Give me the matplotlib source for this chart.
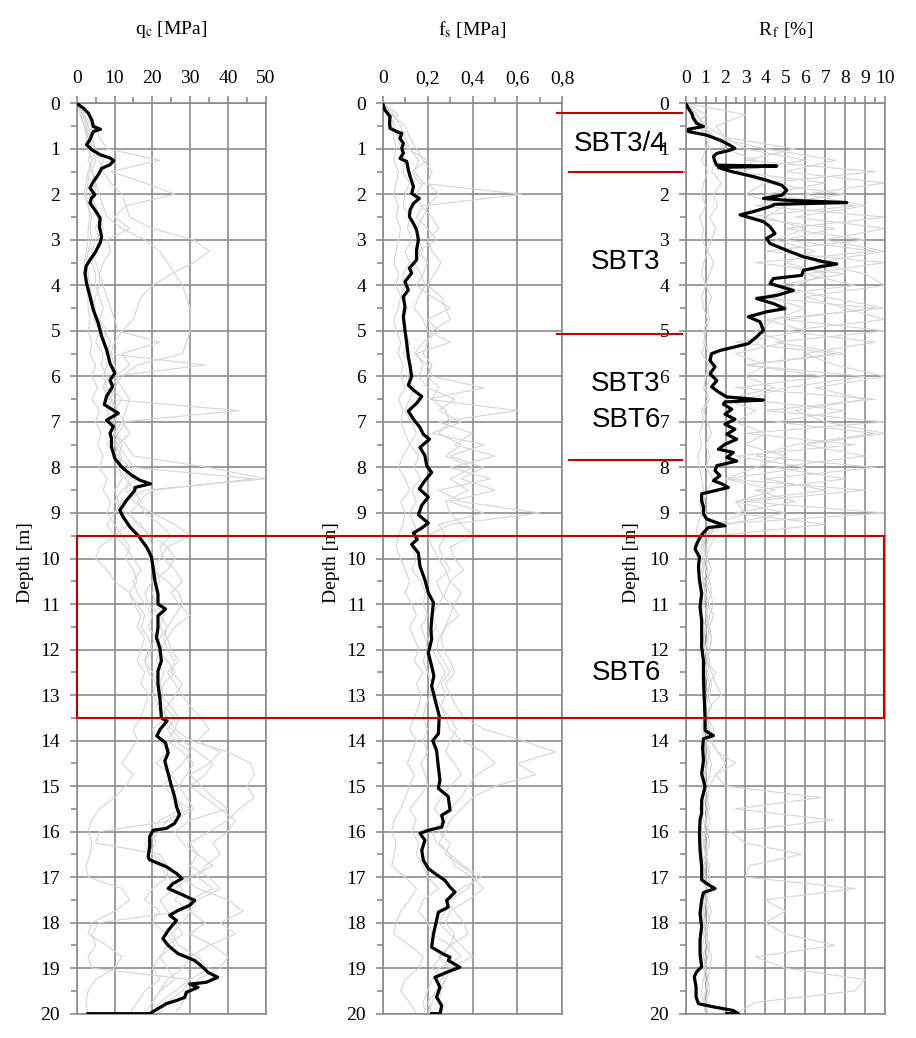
import numpy as np
import matplotlib
matplotlib.use("Agg")
import matplotlib.pyplot as plt
from matplotlib.ticker import MultipleLocator, FuncFormatter
from matplotlib.patches import Rectangle
from matplotlib.lines import Line2D

plt.rcParams["font.family"] = ["Liberation Serif", "DejaVu Serif"]
plt.rcParams["mathtext.fontset"] = "stix"

# ---------------------------------------------------------------- data
# reference (bold) CPT sounding: depth [m] / value
QC_DEPTH = [0, 0.11, 0.22, 0.37, 0.51, 0.57, 0.62, 0.8, 0.91, 1.02, 1.13, 1.2, 1.26, 1.35, 1.43,
            1.57, 1.72, 1.86, 2.01, 2.08, 2.19, 2.34, 2.52, 2.71, 2.93, 3.07, 3.29, 3.44, 3.58,
            3.73, 3.95, 4.24, 4.54, 4.83, 5.12, 5.41, 5.71, 5.93, 6.08, 6.22, 6.44, 6.62, 6.81,
            6.96, 7.1, 7.25, 7.36, 7.55, 7.8, 7.99, 8.17, 8.28, 8.36, 8.44, 8.5, 8.72, 8.94, 9.09,
            9.31, 9.5, 9.75, 9.97, 10.2, 10.49, 10.78, 11.0, 11.11, 11.26, 11.52, 11.74, 11.96,
            12.25, 12.47, 12.76, 13.06, 13.5, 13.57, 13.76, 13.9, 14.05, 14.27, 14.45, 14.72,
            14.98, 15.23, 15.45, 15.63, 15.82, 15.93, 15.97, 16.11, 16.33, 16.55, 16.62, 16.77,
            16.92, 17.03, 17.14, 17.25, 17.36, 17.51, 17.62, 17.73, 17.84, 17.95, 18.17, 18.35,
            18.5, 18.68, 18.83, 18.98, 19.09, 19.2, 19.31, 19.35, 19.42, 19.53, 19.64, 19.71,
            19.78, 19.89, 20.0, 20.0]
QC_VALUE = [0, 1.8, 3.1, 4.0, 4.4, 6.3, 4.4, 3.5, 2.6, 4.0, 6.2, 8.8, 9.8, 8.8, 6.6,
            5.7, 4.4, 3.5, 4.8, 3.9, 3.5, 4.8, 6.2, 6.0, 6.6, 6.2, 4.8, 3.5, 2.5,
            2.2, 2.6, 3.5, 4.4, 5.7, 6.6, 7.9, 8.8, 10.1, 8.8, 9.5, 7.9, 7.3, 11.0,
            7.9, 9.7, 8.8, 9.2, 9.2, 10.1, 11.9, 14.5, 16.7, 19.5, 15.4, 15.4, 13.2, 11.4, 12.3,
            14.1, 16.3, 18.5, 19.8, 20.2, 20.7, 21.5, 21.5, 23.5, 21.5, 21.5, 21.1, 22.0,
            22.4, 21.5, 21.5, 22.0, 22.4, 23.9, 22.0, 21.2, 23.5, 24.2, 23.3, 24.2,
            25.0, 25.9, 26.4, 27.2, 25.9, 23.7, 20.2, 19.3, 19.3, 18.9, 19.3, 23.7,
            26.4, 27.9, 25.5, 24.2, 27.2, 31.2, 29.9, 26.8, 24.6, 26.4, 24.2, 22.8,
            24.2, 26.8, 31.2, 33.4, 34.7, 37.3, 34.3, 29.9, 32.1, 29.0, 28.6, 26.4,
            23.7, 21.5, 19.3, 3.0]

FS_DEPTH = [0, 0.15, 0.29, 0.44, 0.55, 0.62, 0.66, 0.77, 0.88, 0.99, 1.1, 1.21, 1.28, 1.46, 1.61,
            1.83, 1.98, 2.09, 2.2, 2.34, 2.49, 2.64, 2.78, 3.0, 3.22, 3.44, 3.62, 3.73, 3.92, 4.1,
            4.25, 4.47, 4.69, 4.98, 5.27, 5.56, 5.78, 6.0, 6.19, 6.3, 6.44, 6.59, 6.76, 6.94, 7.12,
            7.27, 7.38, 7.56, 7.74, 7.96, 8.11, 8.29, 8.47, 8.65, 8.83, 9.04, 9.22, 9.33, 9.44,
            9.58, 9.69, 9.88, 10.17, 10.47, 10.75, 10.97, 11.34, 11.56, 11.78, 12.07, 12.36,
            12.58, 12.8, 13.1, 13.46, 13.85, 14.0, 14.22, 14.58, 14.87, 15.05, 15.23, 15.53,
            15.64, 15.79, 15.9, 15.97, 16.04, 16.19, 16.41, 16.63, 16.81, 16.92, 17.07, 17.22,
            17.33, 17.51, 17.66, 17.77, 17.95, 18.25, 18.54, 18.69, 18.76, 18.83, 18.98, 19.09,
            19.2, 19.42, 19.64, 19.82, 20.0, 20.0]
FS_VALUE = [0, 0.01, 0.033, 0.03, 0.033, 0.062, 0.085, 0.077, 0.092, 0.085, 0.092, 0.077, 0.107,
            0.114, 0.122, 0.137, 0.129, 0.163, 0.137, 0.122, 0.119, 0.137, 0.151, 0.159, 0.151,
            0.151, 0.119, 0.129, 0.099, 0.114, 0.092, 0.099, 0.092, 0.099, 0.107, 0.114, 0.122,
            0.129, 0.114, 0.137, 0.174, 0.151, 0.114, 0.137, 0.166, 0.181, 0.208, 0.166, 0.188,
            0.196, 0.218, 0.188, 0.163, 0.203, 0.174, 0.159, 0.203, 0.174, 0.137, 0.154, 0.129,
            0.159, 0.166, 0.188, 0.203, 0.226, 0.218, 0.215, 0.218, 0.203, 0.218, 0.228, 0.218,
            0.233, 0.252, 0.248, 0.223, 0.240, 0.248, 0.255, 0.248, 0.292, 0.300, 0.263, 0.270,
            0.263, 0.203, 0.166, 0.188, 0.174, 0.181, 0.203, 0.233, 0.277, 0.300, 0.322, 0.285,
            0.292, 0.248, 0.240, 0.226, 0.218, 0.270, 0.300, 0.292, 0.344, 0.285, 0.233, 0.255,
            0.240, 0.263, 0.255, 0.218]

RF_DEPTH = [0, 0.11, 0.22, 0.33, 0.44, 0.51, 0.57, 0.62, 0.70, 0.81, 0.92, 0.99, 1.04, 1.10,
            1.17, 1.28, 1.36, 1.38, 1.41, 1.50, 1.61, 1.69, 1.80, 1.91, 2.02, 2.09, 2.13, 2.18,
            2.22, 2.27, 2.38, 2.45, 2.60, 2.71, 2.86, 2.97, 3.08, 3.23, 3.37, 3.48, 3.53, 3.59,
            3.67, 3.78, 3.85, 3.96, 4.11, 4.22, 4.29, 4.40, 4.51, 4.58, 4.69, 4.80, 4.99, 5.13,
            5.28, 5.35, 5.43, 5.50, 5.65, 5.79, 5.94, 6.09, 6.23, 6.34, 6.45, 6.52, 6.56, 6.61,
            6.72, 6.83, 6.94, 7.05, 7.16, 7.27, 7.38, 7.49, 7.60, 7.67, 7.78, 7.86, 7.96, 8.07,
            8.18, 8.29, 8.36, 8.44, 8.51, 8.58, 8.73, 8.87, 9.02, 9.13, 9.20, 9.28, 9.32, 9.43,
            9.54, 9.68, 9.79, 9.97, 10.19, 10.48, 10.77, 11.07, 11.36, 11.65, 11.94, 12.24,
            12.60, 12.97, 13.48, 13.78, 13.89, 13.96, 14.15, 14.44, 14.73, 15.01, 15.31, 15.60,
            15.74, 16.04, 16.40, 16.77, 17.06, 17.14, 17.25, 17.34, 17.50, 17.80, 18.09, 18.38,
            18.68, 18.97, 19.08, 19.19, 19.41, 19.63, 19.78, 19.85, 19.93, 20.00, 20.00]
RF_VALUE = [0, 0.13, 0.30, 0.38, 0.55, 0.89, 0.13, 0.13, 1.05, 1.72, 2.22, 2.47, 2.14, 1.56,
            1.39, 1.47, 1.56, 4.57, 1.64, 2.31, 3.39, 4.06, 4.82, 5.07, 4.82, 3.90, 5.07, 8.08,
            4.48, 4.23, 3.39, 2.73, 3.90, 4.23, 4.48, 4.06, 4.23, 5.07, 5.90, 6.90, 7.58, 6.74,
            5.90, 5.82, 4.40, 4.23, 5.40, 4.57, 3.56, 4.40, 4.98, 4.06, 3.14, 3.73, 3.90, 3.56,
            3.14, 2.47, 1.72, 1.30, 1.22, 1.47, 1.22, 1.56, 1.30, 1.64, 2.06, 3.90, 1.97, 1.89,
            2.31, 1.97, 2.47, 1.97, 2.47, 2.06, 2.56, 1.97, 1.64, 2.39, 2.06, 2.56, 1.56, 1.47,
            1.72, 1.39, 1.81, 2.14, 1.47, 0.80, 0.80, 0.89, 0.89, 1.05, 1.47, 1.97, 1.14, 0.89,
            0.72, 0.55, 0.47, 0.69, 0.64, 0.69, 0.80, 0.72, 0.80, 0.80, 0.80, 0.89,
            0.89, 0.92, 0.97, 0.97, 1.39, 0.89, 0.85, 0.89, 0.80, 0.97, 0.80, 0.80,
            0.72, 0.69, 0.72, 0.80, 0.80, 1.05, 1.47, 0.89, 0.80, 0.72, 0.80, 0.72,
            0.72, 0.80, 0.55, 0.43, 0.52, 0.52, 0.64, 1.39, 2.39, 2.64, 2.06]

# other soundings of the site (thin grey), sampled every 0.25 m from 0 to 20 m
QC_OTHERS = [
    [0, 1.5, 2.5, 3, 3, 4, 3.5, 3, 2.5, 3, 3.5, 3, 3, 2.5, 2, 2.5, 2.5, 3, 3, 3.5,
     3, 4, 3.5, 5, 4, 5.5, 4, 6, 5, 6.5, 5.5, 7, 6, 8, 7, 9, 8, 10, 12, 14,
     13, 15, 16, 14, 15, 17, 16, 18, 17, 16, 18, 17, 19, 18, 17, 15, 16, 14, 12, 15,
     13, 10, 6, 4, 3, 4, 3.5, 2.5, 3, 12, 14, 10, 4, 3, 8, 12, 10, 5, 3, 2.5, 3],
    [0, 3, 5, 6, 8, 22, 9, 18, 26, 13, 10, 14, 8, 9, 7, 6, 7, 8, 9, 10,
     11, 22, 12, 14, 10, 12, 14, 13, 12, 14, 11, 13, 15, 47, 20, 16, 18, 22, 25, 22,
     23, 26, 28, 25, 27, 30, 26, 24, 25, 27, 24, 26, 28, 30, 33, 35, 32, 38, 35, 30,
     33, 36, 40, 30, 26, 28, 32, 30, 35, 38, 32, 30, 34, 30, 36, 40, 38, 32, 30, 28, 26],
    [0, 2, 3, 4, 5, 6, 7, 9, 12, 13, 14, 20, 31, 35, 31, 25, 20, 17, 16, 15,
     12, 10, 9, 8, 7, 8, 9, 10, 9, 10, 12, 11, 12, 14, 13, 15, 20, 26, 30, 24,
     22, 20, 24, 27, 28, 26, 24, 22, 21, 24, 26, 23, 22, 25, 27, 26, 24, 28, 31, 29,
     27, 25, 30, 24, 22, 18, 20, 24, 28, 32, 40, 44, 38, 42, 35, 30, 28, 24, 22, 20, 18],
    [0, 1, 2, 3, 4, 5, 4, 5, 6, 7, 8, 12, 18, 22, 24, 26, 28, 29, 30, 30,
     30, 29, 28, 16, 12, 10, 9, 11, 10, 9, 11, 10, 11, 12, 10, 11, 12, 14, 10, 6,
     5, 8, 10, 14, 16, 18, 17, 19, 20, 18, 19, 21, 20, 22, 24, 26, 30, 40, 46, 47,
     45, 47, 43, 40, 35, 30, 32, 36, 30, 26, 22, 24, 26, 28, 24, 22, 20, 22, 18, 16, 14],
    [0, 2, 3, 3, 4, 3, 4, 5, 5, 4, 6, 5, 6, 5, 4, 5, 5, 6, 7, 6,
     7, 9, 8, 34, 9, 10, 8, 43, 12, 10, 13, 15, 35, 50, 18, 12, 10, 8, 10, 13,
     15, 17, 15, 16, 18, 20, 19, 21, 19, 18, 20, 22, 23, 21, 24, 20, 22, 24, 21, 25,
     23, 26, 28, 22, 20, 21, 19, 22, 24, 20, 18, 22, 20, 24, 26, 22, 24, 26, 22, 20, 22],
    [0, 1, 2, 2.5, 3, 4, 3, 2.5, 2, 3, 4, 3.5, 4, 3, 2.5, 3, 3.5, 4, 5, 4.5,
     6, 5, 7, 6.5, 8, 7, 9, 8, 9, 10, 8, 11, 14, 16, 12, 10, 13, 17, 19, 20,
     19, 21, 22, 20, 21, 23, 22, 24, 22, 21, 23, 22, 21, 23, 26, 24, 26, 30, 28, 25,
     27, 29, 31, 26, 6, 5, 22, 24, 24, 28, 26, 30, 28, 25, 27, 32, 35, 30, 26, 22, 20],
    [0, 2, 4, 3, 5, 7, 6, 5, 4, 5, 6, 7, 5, 4, 5, 6, 6, 5, 4, 6,
     8, 7, 9, 10, 11, 9, 12, 10, 13, 11, 10, 12, 11, 13, 15, 17, 14, 16, 20, 24,
     26, 24, 20, 18, 19, 22, 24, 23, 24, 26, 25, 28, 26, 24, 22, 25, 28, 32, 36, 34,
     30, 34, 38, 42, 40, 36, 38, 34, 32, 36, 30, 28, 6, 4, 5, 3, 4, 30, 28, 24, 22],
]

FS_OTHERS = [
    [0, 0.02, 0.04, 0.05, 0.06, 0.05, 0.07, 0.06, 0.05, 0.07, 0.06, 0.08, 0.07, 0.06, 0.05, 0.07,
     0.06, 0.08, 0.07, 0.05, 0.06, 0.08, 0.07, 0.09, 0.08, 0.1, 0.07, 0.09, 0.08, 0.1, 0.12, 0.09,
     0.07, 0.1, 0.12, 0.08, 0.1, 0.09, 0.07, 0.06, 0.08, 0.1, 0.12, 0.1, 0.13, 0.15, 0.12, 0.14,
     0.16, 0.14, 0.18, 0.15, 0.17, 0.16, 0.14, 0.12, 0.15, 0.13, 0.11, 0.14, 0.12, 0.1, 0.08, 0.05,
     0.04, 0.06, 0.05, 0.04, 0.1, 0.15, 0.12, 0.08, 0.06, 0.05, 0.12, 0.18, 0.16, 0.1, 0.08, 0.12, 0.15],
    [0, 0.07, 0.03, 0.08, 0.11, 0.2, 0.13, 0.16, 0.62, 0.18, 0.15, 0.2, 0.24, 0.16, 0.2, 0.18,
     0.15, 0.22, 0.3, 0.2, 0.25, 0.18, 0.14, 0.2, 0.22, 0.45, 0.2, 0.6, 0.25, 0.4, 0.32, 0.5,
     0.3, 0.48, 0.25, 0.35, 0.7, 0.3, 0.2, 0.22, 0.25, 0.28, 0.3, 0.35, 0.32, 0.3, 0.28, 0.26,
     0.27, 0.3, 0.32, 0.28, 0.3, 0.33, 0.36, 0.45, 0.62, 0.77, 0.6, 0.68, 0.5, 0.4, 0.35, 0.3,
     0.28, 0.25, 0.3, 0.32, 0.4, 0.45, 0.38, 0.3, 0.28, 0.32, 0.3, 0.25, 0.3, 0.28, 0.26, 0.25, 0.27],
    [0, 0.05, 0.08, 0.1, 0.12, 0.16, 0.14, 0.18, 0.15, 0.17, 0.22, 0.25, 0.2, 0.22, 0.26, 0.23,
     0.2, 0.26, 0.28, 0.3, 0.22, 0.2, 0.18, 0.22, 0.2, 0.25, 0.22, 0.28, 0.3, 0.25, 0.35, 0.28,
     0.4, 0.3, 0.38, 0.28, 0.3, 0.35, 0.4, 0.3, 0.32, 0.36, 0.3, 0.28, 0.25, 0.22, 0.24, 0.2,
     0.22, 0.25, 0.28, 0.25, 0.23, 0.26, 0.28, 0.3, 0.35, 0.45, 0.5, 0.42, 0.38, 0.35, 0.3, 0.28,
     0.25, 0.3, 0.28, 0.35, 0.42, 0.38, 0.3, 0.28, 0.25, 0.3, 0.35, 0.4, 0.3, 0.26, 0.24, 0.22, 0.2],
    [0, 0.03, 0.05, 0.07, 0.08, 0.1, 0.09, 0.12, 0.1, 0.09, 0.12, 0.11, 0.13, 0.1, 0.12, 0.09,
     0.1, 0.08, 0.11, 0.09, 0.1, 0.12, 0.09, 0.13, 0.11, 0.14, 0.12, 0.1, 0.13, 0.15, 0.12, 0.16,
     0.14, 0.17, 0.13, 0.15, 0.12, 0.14, 0.16, 0.13, 0.15, 0.13, 0.17, 0.19, 0.18, 0.2, 0.17, 0.19,
     0.2, 0.18, 0.2, 0.22, 0.21, 0.19, 0.18, 0.2, 0.18, 0.2, 0.17, 0.19, 0.2, 0.16, 0.12, 0.15,
     0.13, 0.16, 0.15, 0.18, 0.2, 0.25, 0.18, 0.16, 0.2, 0.22, 0.3, 0.35, 0.25, 0.22, 0.2, 0.18, 0.19],
    [0, 0.04, 0.1, 0.12, 0.15, 0.18, 0.22, 0.2, 0.25, 0.2, 0.18, 0.15, 0.16, 0.18, 0.14, 0.17,
     0.19, 0.16, 0.14, 0.18, 0.2, 0.3, 0.15, 0.18, 0.16, 0.2, 0.32, 0.25, 0.35, 0.22, 0.45, 0.3,
     0.45, 0.35, 0.5, 0.3, 0.45, 0.25, 0.28, 0.25, 0.27, 0.3, 0.24, 0.26, 0.3, 0.34, 0.28, 0.25,
     0.24, 0.27, 0.3, 0.26, 0.28, 0.26, 0.3, 0.33, 0.3, 0.28, 0.32, 0.35, 0.3, 0.26, 0.23, 0.27,
     0.22, 0.24, 0.3, 0.36, 0.44, 0.35, 0.28, 0.32, 0.36, 0.38, 0.3, 0.26, 0.22, 0.28, 0.24, 0.2, 0.22],
]

RF_OTHERS = [
    [0, 0.6, 1.0, 1.2, 1.0, 0.8, 1.1, 0.9, 0.8, 1.0, 0.7, 0.9, 0.8, 1.1, 0.9, 0.8,
     1.0, 0.8, 0.9, 1.1, 0.9, 1.0, 0.8, 1.2, 1.0, 0.9, 1.1, 0.8, 0.9, 0.7, 0.8, 0.6,
     0.7, 0.8, 0.9, 0.7, 0.8, 0.6, 0.5, 0.7, 0.8, 0.9, 0.8, 1.0, 0.9, 1.1, 1.0, 0.9,
     1.0, 1.1, 0.9, 1.2, 1.0, 0.9, 1.1, 1.0, 0.9, 1.0, 1.1, 0.9, 1.0, 0.8, 0.7, 0.9,
     1.0, 0.9, 0.8, 1.0, 0.9, 1.0, 0.8, 0.9, 1.0, 0.9, 1.1, 1.0, 0.9, 1.0, 1.1, 1.0, 1.1],
    [0, 3.0, 1.5, 2.0, 5.5, 3.0, 9.5, 4.0, 8.0, 3.5, 10.0, 5.0, 9.0, 4.0, 10.0, 6.0,
     8.5, 3.5, 9.5, 5.0, 10.0, 4.5, 8.0, 3.0, 7.0, 2.5, 9.5, 4.0, 10.0, 3.0, 8.5, 2.5,
     6.0, 2.0, 9.0, 3.0, 10.0, 1.5, 1.2, 1.0, 1.1, 1.3, 1.0, 1.2, 1.4, 1.2, 1.1, 1.3,
     1.2, 1.0, 1.5, 1.2, 1.1, 1.3, 1.0, 1.2, 1.2, 1.6, 2.5, 1.5, 2.0, 6.8, 2.5, 7.4,
     2.2, 3.0, 5.8, 3.2, 3.0, 8.5, 4.0, 5.0, 4.0, 5.0, 7.5, 3.5, 5.0, 9.0, 8.5, 3.5, 2.5],
    [0, 0.5, 1.0, 2.0, 3.0, 6.0, 2.5, 7.0, 4.0, 8.5, 3.0, 7.5, 5.0, 9.5, 3.5, 8.0,
     4.5, 7.0, 10.0, 4.0, 6.0, 2.5, 7.5, 3.0, 9.0, 5.0, 3.0, 8.0, 4.5, 9.5, 5.5, 3.5,
     9.5, 4.0, 7.0, 2.5, 5.0, 2.0, 1.0, 0.8, 0.9, 1.0, 1.2, 0.9, 1.1, 1.0, 1.2, 1.1,
     1.0, 1.2, 1.1, 1.3, 1.2, 1.0, 1.1, 1.2, 1.0, 1.1, 1.3, 1.2, 1.0, 1.1, 1.2, 1.0,
     1.1, 1.2, 1.0, 1.1, 1.2, 1.0, 1.1, 1.3, 1.1, 1.0, 1.2, 1.1, 1.0, 1.1, 1.2, 1.0, 1.1],
    [0, 0.3, 0.8, 1.5, 2.0, 3.5, 2.5, 4.0, 3.0, 5.0, 4.0, 6.0, 4.5, 6.5, 5.0, 7.0,
     5.5, 4.0, 6.0, 4.5, 3.5, 5.0, 2.5, 4.0, 3.0, 4.5, 2.0, 3.5, 2.5, 4.0, 3.0, 5.0,
     3.5, 2.0, 4.5, 2.5, 3.0, 1.5, 1.0, 0.9, 1.0, 0.8, 0.9, 1.0, 0.9, 0.8, 1.0, 0.9,
     0.8, 0.9, 1.0, 0.8, 0.9, 1.0, 0.9, 0.8, 1.0, 0.9, 1.0, 0.8, 0.9, 1.0, 0.8, 0.7,
     0.8, 0.9, 1.0, 0.8, 0.9, 1.0, 0.9, 0.8, 0.9, 1.0, 0.8, 0.9, 1.0, 0.9, 0.8, 0.9, 1.0],
    [0, 1.0, 0.5, 1.5, 4.0, 7.5, 5.0, 10.0, 6.0, 9.0, 5.5, 10.0, 7.0, 10.0, 6.5, 9.0,
     10.0, 6.0, 8.0, 10.0, 5.0, 9.5, 6.0, 7.5, 10.0, 6.5, 9.0, 5.5, 7.0, 10.0, 6.0, 9.0,
     4.5, 8.0, 3.5, 5.5, 2.5, 7.0, 1.5, 1.2, 1.0, 1.1, 0.9, 1.0, 1.2, 1.0, 1.1, 0.9,
     1.0, 1.1, 1.0, 1.2, 1.1, 1.0, 0.9, 1.1, 1.0, 1.2, 1.1, 1.0, 0.9, 1.0, 1.1, 1.0,
     0.9, 1.0, 1.1, 0.9, 1.0, 1.1, 1.0, 0.9, 1.0, 1.1, 1.0, 0.9, 1.0, 1.1, 1.0, 0.9, 1.0],
    [0, 0.4, 0.7, 1.0, 1.2, 1.5, 1.3, 1.8, 1.4, 1.6, 1.2, 1.5, 1.3, 1.1, 1.4, 1.2,
     1.0, 1.3, 1.1, 1.2, 1.0, 0.9, 1.2, 1.1, 1.3, 1.0, 1.2, 0.9, 1.1, 1.3, 1.0, 1.2,
     1.0, 1.4, 1.1, 0.9, 1.0, 1.2, 0.8, 0.9, 1.1, 1.0, 1.2, 1.3, 1.1, 1.4, 1.2, 1.3,
     1.2, 1.1, 1.3, 1.5, 1.8, 1.2, 1.1, 1.4, 1.3, 1.6, 2.0, 1.5, 1.2, 1.1, 1.0, 1.2,
     1.1, 0.9, 1.0, 1.2, 1.1, 1.3, 1.0, 1.1, 1.2, 1.0, 1.1, 1.3, 1.2, 1.1, 1.0, 0.9, 1.0],
]
OTHERS_STEP = 0.25

PANEL_TITLES = ["q$_\\mathrm{c}$ [MPa]", "f$_\\mathrm{s}$ [MPa]", "R$_{\\,\\mathrm{f}}$ [%]"]
Y_LABEL = "Depth [m]"

# soil behaviour type zones
ZONE_LABELS = ["SBT3/4", "SBT3", "SBT3", "SBT6", "SBT6"]

# ---------------------------------------------------------------- figure
W, H = 916, 1038
fig = plt.figure(figsize=(W / 100, H / 100), dpi=100)


def fx(px):
    return px / W


def fy(py):
    return 1 - py / H


GRID = "#8c8c8c"
GREY = "#d5d5d5"
RED = "#c00000"
FS = 14

panels = [
    dict(left=76.7, right=265.7, xmax=50, major=10, minor=5,
         depth=QC_DEPTH, value=QC_VALUE, others=QC_OTHERS, fmt=lambda v, p: f"{v:.0f}"),
    dict(left=382.7, right=562.3, xmax=0.8, major=0.2, minor=0.1,
         depth=FS_DEPTH, value=FS_VALUE, others=FS_OTHERS,
         fmt=lambda v, p: "0" if abs(v) < 1e-9 else f"{v:.1f}".replace(".", ",")),
    dict(left=685.7, right=885.0, xmax=10, major=1, minor=0.5,
         depth=RF_DEPTH, value=RF_VALUE, others=RF_OTHERS, fmt=lambda v, p: f"{v:.0f}"),
]
top_px, bot_px = 103.3, 1013.7
ylabel_x = [25, 332, 632]

for i, p in enumerate(panels):
    ax = fig.add_axes([fx(p["left"]), fy(bot_px), fx(p["right"] - p["left"]), (bot_px - top_px) / H])
    for vals in p["others"]:
        d = np.arange(len(vals)) * OTHERS_STEP
        ax.plot(vals, d, color=GREY, lw=0.8, zorder=2)
    ax.plot(p["value"], p["depth"], color="black", lw=2.3, zorder=4, solid_joinstyle="round")

    ax.set_xlim(0, p["xmax"])
    ax.set_ylim(20, 0)
    ax.xaxis.set_major_locator(MultipleLocator(p["major"]))
    ax.xaxis.set_minor_locator(MultipleLocator(p["minor"]))
    ax.yaxis.set_major_locator(MultipleLocator(1))
    ax.yaxis.set_minor_locator(MultipleLocator(0.5))
    ax.xaxis.set_major_formatter(FuncFormatter(p["fmt"]))
    ax.xaxis.tick_top()
    ax.tick_params(which="both", direction="out", color=GRID, width=1.2,
                   labelsize=FS, top=True, bottom=False, left=True, right=False)
    ax.tick_params(which="major", length=5, pad=7)
    ax.tick_params(which="minor", length=4)
    ax.grid(True, which="major", color=GRID, lw=1.2, zorder=1)
    ax.set_axisbelow(True)
    for s in ax.spines.values():
        s.set_color(GRID)
        s.set_linewidth(1.2)

    fig.text(fx((p["left"] + p["right"]) / 2), fy(30), PANEL_TITLES[i],
             ha="center", va="center", fontsize=FS)
    fig.text(fx(ylabel_x[i]), fy(563), Y_LABEL, rotation=90,
             ha="center", va="center", fontsize=FS)

# zone boundaries and the highlighted depth window
for (x0, x1, y) in [(557, 682, 112.7), (569, 682, 172.3), (557, 682, 334), (569, 682, 460)]:
    fig.add_artist(Line2D([fx(x0), fx(x1)], [fy(y), fy(y)], color=RED, lw=1.5, zorder=10))
fig.add_artist(Rectangle((fx(76.7), fy(718.3)), fx(884 - 76.7), (718.3 - 535.7) / H,
                         fill=False, edgecolor=RED, lw=1.5, zorder=10))

zone_pos = [(620, 144), (626, 262), (626, 384), (626, 420), (626, 673)]
for lab, (x, y) in zip(ZONE_LABELS, zone_pos):
    fig.text(fx(x), fy(y), lab, ha="center", va="center", fontsize=20,
             family=["Liberation Sans", "DejaVu Sans"], zorder=11)

fig.savefig("out.png", dpi=100)
